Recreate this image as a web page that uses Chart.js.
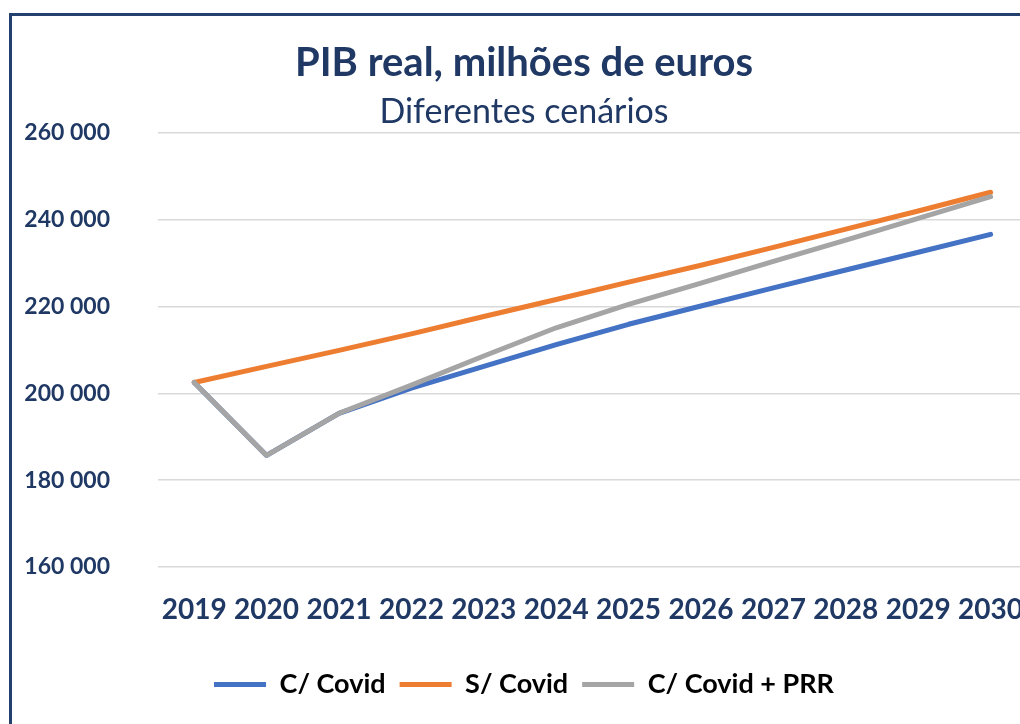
<!DOCTYPE html>
<html>
<head>
<meta charset="utf-8">
<script src="https://cdn.jsdelivr.net/npm/chart.js@4.4.1/dist/chart.umd.min.js"></script>
<style>
  html, body { margin: 0; padding: 0; background: #fff; overflow: hidden; width: 1020px; height: 724px; }
  #wrap { position: absolute; left: 0; top: 0; width: 1050px; height: 724px; }
  #frame { position: absolute; left: 9px; top: 13px; width: 1200px; height: 900px;
           border-left: 3px solid #24406E; border-top: 3px solid #24406E; pointer-events: none; }
</style>
</head>
<body>
<div id="wrap"><canvas id="c" width="1050" height="724"></canvas></div>
<div id="frame"></div>
<script>
const categories = ['2019','2020','2021','2022','2023','2024','2025','2026','2027','2028','2029','2030'];
const comCovid    = [202500, 185700, 195400, 201200, 206200, 211200, 215900, 220100, 224300, 228400, 232500, 236600];
const semCovid    = [202500, 206200, 209900, 213700, 217700, 221600, 225600, 229500, 233600, 237800, 242000, 246300];
const comCovidPRR = [202500, 185700, 195400, 201900, 208600, 215100, 220500, 225400, 230400, 235300, 240300, 245300];
const seriesNames = ['C/ Covid', 'S/ Covid', 'C/ Covid + PRR'];
const yTicks = [160000, 180000, 200000, 220000, 240000, 260000];

const navy = '#1F3864';
const fmt = v => String(v).replace(/\B(?=(\d{3})+(?!\d))/g, ' ');
const lw = 5;

new Chart(document.getElementById('c'), {
  type: 'line',
  data: {
    labels: categories,
    datasets: [
      { label: seriesNames[0], data: comCovid, borderColor: '#4472C4', backgroundColor: '#4472C4', borderWidth: lw, order: 2 },
      { label: seriesNames[1], data: semCovid, borderColor: '#ED7D31', backgroundColor: '#ED7D31', borderWidth: lw, order: 1 },
      { label: seriesNames[2], data: comCovidPRR, borderColor: '#A5A5A5', backgroundColor: '#A5A5A5', borderWidth: lw, order: 0 }
    ]
  },
  options: {
    responsive: false,
    animation: false,
    devicePixelRatio: 1,
    elements: {
      line: { tension: 0, borderCapStyle: 'round', borderJoinStyle: 'round', fill: false },
      point: { radius: 0, hoverRadius: 0 }
    },
    layout: { padding: { left: 20, right: 22, top: 39, bottom: 16 } },
    plugins: {
      title: {
        display: true, text: 'PIB real, milhões de euros', color: navy,
        font: { family: 'Lato', size: 40, weight: 'bold' }, padding: { top: 0, bottom: 5 }
      },
      subtitle: {
        display: true, text: 'Diferentes cenários', color: navy,
        font: { family: 'Lato', size: 34, weight: 'normal' }, padding: { top: 0, bottom: 0 }
      },
      legend: {
        position: 'bottom',
        labels: {
          usePointStyle: true, pointStyle: 'line', pointStyleWidth: 52, boxHeight: 20,
          color: '#000', padding: 14,
          font: { family: 'Lato', size: 27, weight: 'bold' },
          sort: (a, b) => a.datasetIndex - b.datasetIndex
        }
      },
      tooltip: { enabled: false }
    },
    scales: {
      x: {
        offset: true,
        grid: { display: false, drawTicks: false },
        border: { display: false },
        ticks: { color: navy, font: { family: 'Lato', size: 28, weight: 'bold' }, padding: 26, maxRotation: 0, autoSkip: false },
        afterFit: s => { s.height = 90; }
      },
      y: {
        min: 160000, max: 260000,
        afterBuildTicks: s => { s.ticks = yTicks.map(v => ({ value: v })); },
        grid: { color: '#D9D9D9', lineWidth: 1.5, drawTicks: false },
        border: { display: false },
        ticks: { color: navy, font: { family: 'Lato', size: 23, weight: 'bold' }, padding: 48, callback: v => fmt(v) },
        afterFit: s => { s.width = 138; }
      }
    }
  }
});
</script>
</body>
</html>
